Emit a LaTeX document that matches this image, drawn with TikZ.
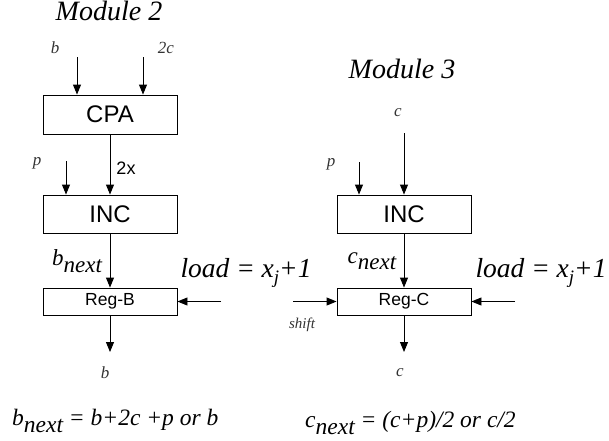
\documentclass[tikz,border=0pt]{standalone}
\usepackage{fontspec}
\setmainfont{Liberation Serif}
\setsansfont{Liberation Sans}
\usetikzlibrary{positioning,arrows.meta}

\newcommand{\nxt}[1]{#1\raisebox{-0.28em}{next}}

\begin{document}
\begin{tikzpicture}[x=1pt,y=-1pt]
\tikzstyle{every node}+=[inner sep=0pt]
\tikzstyle{blk}=[draw, line width=0.9pt, minimum width=134pt, font=\sffamily\fontsize{24}{24}\selectfont]
\tikzstyle{reg}=[blk, minimum height=27pt, font=\sffamily\fontsize{17.5}{17.5}\selectfont]
\tikzstyle{wire}=[line width=0.9pt, -{Triangle[length=10pt,width=8pt]}]
\tikzstyle{ttl}=[anchor=base, font=\itshape\fontsize{28}{28}\selectfont]
\tikzstyle{sig}=[text=black!80, font=\itshape\fontsize{17}{17}\selectfont]
\tikzstyle{nxtlbl}=[font=\itshape\fontsize{23}{23}\selectfont]
\tikzstyle{ldlbl}=[font=\itshape\fontsize{27.5}{27.5}\selectfont]
\tikzstyle{eqn}=[anchor=west, font=\itshape\fontsize{23.5}{23.5}\selectfont]
\useasboundingbox (0,0) rectangle (609,440);

% Module 2
\node [ttl] (t2) at (109,20) {Module 2};
\node [blk, minimum height=39pt] (cpa) at (110,114.5) {CPA};
\node [blk, minimum height=38pt] (inc2) at (110,214) {INC};
\node [reg] (regb) at (110,301.5) {Reg-B};
\coordinate (bin) at (77,57);
\coordinate (cin) at (143,57);
\coordinate (pin2) at (66,161);
\coordinate (bout) at (110,352);
\coordinate (ldb) at (221,301.5);
\draw [wire] (bin) -- (bin |- cpa.north);
\draw [wire] (cin) -- (cin |- cpa.north);
\draw [wire] (cpa) -- (inc2);
\draw [wire] (pin2) -- (pin2 |- inc2.north);
\draw [wire] (inc2) -- (regb);
\draw [wire] (ldb) -- (regb);
\draw [wire] (regb) -- (bout);
\node [sig] (lb) at (55,48) {b};
\node [sig] (l2c) at (166,48) {2c};
\node [sig] (lp2) at (37,163) {p};
\node [font=\sffamily\fontsize{18}{18}\selectfont] (l2x) at (126,168) {2x};
\node [nxtlbl] (lbn) at (77,261) {\nxt{b}};
\node [ldlbl] (lldb) at (246,273) {load = x\raisebox{-0.25em}{\fontsize{19}{19}\selectfont j}+1};
\node [sig] (lbo) at (105,373) {b};
\node [eqn] (fb) at (12,421) {\nxt{b} = b+2c +p or b};

% Module 3
\node [ttl] (t3) at (402,78) {Module 3};
\node [blk, minimum height=38pt] (inc3) at (404,214) {INC};
\node [reg] (regc) at (404,301.5) {Reg-C};
\coordinate (cin3) at (404,133);
\coordinate (pin3) at (359,162);
\coordinate (cout) at (404,352);
\coordinate (shf) at (293,301.5);
\coordinate (ldc) at (515,301.5);
\draw [wire] (cin3) -- (inc3);
\draw [wire] (pin3) -- (pin3 |- inc3.north);
\draw [wire] (inc3) -- (regc);
\draw [wire] (shf) -- (regc);
\draw [wire] (ldc) -- (regc);
\draw [wire] (regc) -- (cout);
\node [sig] (lc) at (398,113) {c};
\node [sig] (lp3) at (331,164) {p};
\node [nxtlbl] (lcn) at (372,261) {\nxt{c}};
\node [text=black!80, font=\itshape\fontsize{15}{15}\selectfont] (lsh) at (302,325) {shift};
\node [ldlbl] (lldc) at (541,273) {load = x\raisebox{-0.25em}{\fontsize{19}{19}\selectfont j}+1};
\node [sig] (lco) at (400,373) {c};
\node [eqn] (fc) at (305,423) {\nxt{c} = (c+p)/2 or c/2};
\end{tikzpicture}
\end{document}
